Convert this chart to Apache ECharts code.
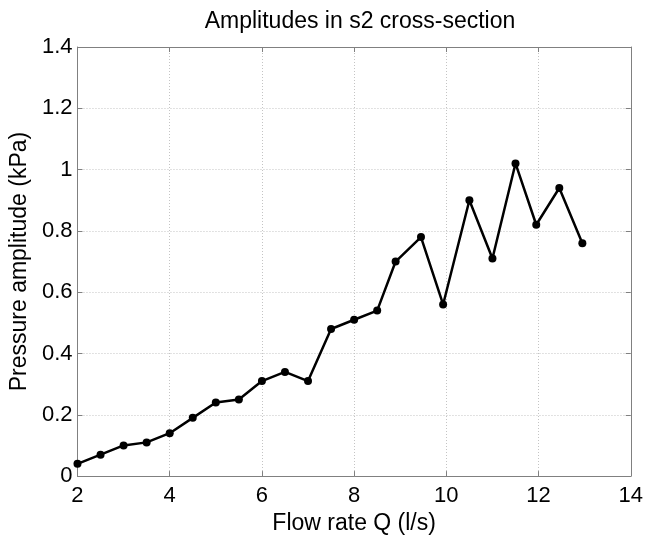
<!DOCTYPE html>
<html>
<head>
<meta charset="utf-8">
<script src="https://cdn.jsdelivr.net/npm/echarts@6/dist/echarts.min.js"></script>
<style>
html,body{margin:0;padding:0;background:#fff;}
#chart{width:646px;height:540px;}
</style>
</head>
<body>
<div id="chart"></div>
<script>
var flowRate = [2, 2.5, 3, 3.5, 4, 4.5, 5, 5.5, 6, 6.5, 7, 7.5, 8, 8.5, 8.9, 9.45, 9.93, 10.5, 11, 11.5, 11.95, 12.45, 12.95];
var amplitude = [0.04, 0.07, 0.10, 0.11, 0.14, 0.19, 0.24, 0.25, 0.31, 0.34, 0.31, 0.48, 0.51, 0.54, 0.70, 0.78, 0.56, 0.90, 0.71, 1.02, 0.82, 0.94, 0.76];
var titleText = 'Amplitudes in s2 cross-section';
var xName = 'Flow rate Q (l/s)';
var yName = 'Pressure amplitude (kPa)';

var points = flowRate.map(function (x, i) { return [x, amplitude[i]]; });
var font = 'Liberation Sans, Arial, sans-serif';
var axisColor = '#808080';
var gridStyle = { show: true, lineStyle: { color: '#c4c4c4', type: [1, 2], width: 1 } };

var chart = echarts.init(document.getElementById('chart'), null, { renderer: 'canvas' });
chart.setOption({
  backgroundColor: '#fff',
  animation: false,
  title: {
    text: titleText,
    left: 355, top: 5, textAlign: 'center',
    textStyle: { fontFamily: font, fontSize: 23, fontWeight: 'normal', color: '#000' }
  },
  grid: { left: 77, right: 13, top: 47, bottom: 53, containLabel: false },
  xAxis: [{
    type: 'value', min: 2, max: 14, interval: 2,
    name: xName, nameLocation: 'middle', nameGap: 33,
    nameTextStyle: { fontFamily: font, fontSize: 23, color: '#000' },
    axisLine: { show: true, onZero: false, lineStyle: { color: axisColor, width: 1 } },
    axisTick: { show: true, inside: true, length: 5, lineStyle: { color: axisColor } },
    axisLabel: { fontFamily: font, fontSize: 22, color: '#000', margin: 9 },
    splitLine: gridStyle
  }, {
    type: 'value', position: 'top', min: 2, max: 14, interval: 2,
    axisLine: { show: true, onZero: false, lineStyle: { color: axisColor, width: 1 } },
    axisTick: { show: true, inside: true, length: 5, lineStyle: { color: axisColor } },
    axisLabel: { show: false }, splitLine: { show: false }
  }],
  yAxis: [{
    type: 'value', min: 0, max: 1.4, interval: 0.2,
    name: yName, nameLocation: 'middle', nameGap: 43, nameRotate: 90,
    nameTextStyle: { fontFamily: font, fontSize: 23, color: '#000' },
    axisLine: { show: true, onZero: false, lineStyle: { color: axisColor, width: 1 } },
    axisTick: { show: true, inside: true, length: 5, lineStyle: { color: axisColor } },
    axisLabel: { fontFamily: font, fontSize: 22, color: '#000', margin: 5 },
    splitLine: gridStyle
  }, {
    type: 'value', position: 'right', min: 0, max: 1.4, interval: 0.2,
    axisLine: { show: true, onZero: false, lineStyle: { color: axisColor, width: 1 } },
    axisTick: { show: true, inside: true, length: 5, lineStyle: { color: axisColor } },
    axisLabel: { show: false }, splitLine: { show: false }
  }],
  series: [{
    type: 'line',
    xAxisIndex: 0, yAxisIndex: 0,
    data: points,
    symbol: 'circle', symbolSize: 8,
    itemStyle: { color: '#000' },
    lineStyle: { color: '#000', width: 2.5 }
  }]
});
</script>
</body>
</html>
